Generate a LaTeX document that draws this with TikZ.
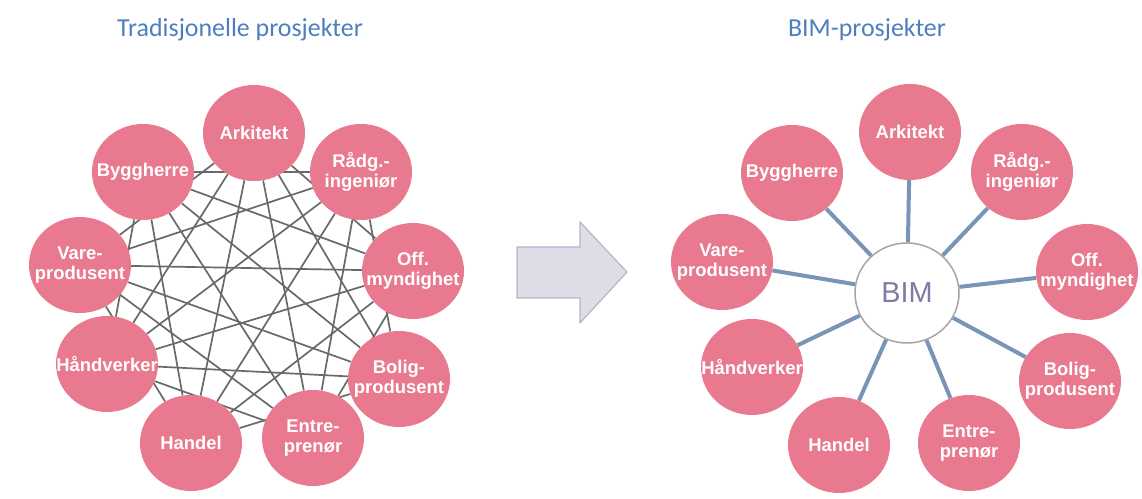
\documentclass[tikz,border=0pt]{standalone}
\usepackage{fontspec}
\setmainfont{Liberation Sans}
\newfontfamily\titlefont{Carlito}
\usetikzlibrary{shapes.geometric,backgrounds}

\definecolor{ballpink}{RGB}{233,121,143}
\definecolor{titleblue}{RGB}{78,126,190}
\definecolor{netgray}{RGB}{104,106,106}
\definecolor{spokeblue}{RGB}{120,148,182}
\definecolor{arrowfill}{RGB}{221,221,230}
\definecolor{arrowedge}{RGB}{180,180,206}
\definecolor{bimtext}{RGB}{124,124,166}
\definecolor{bimedge}{RGB}{165,165,165}

\begin{document}
\begin{tikzpicture}[x=1bp,y=-1bp,
  ball/.style={ellipse, fill=ballpink, minimum width=102bp, minimum height=96bp, inner sep=0pt},
  balltext/.style={text=white, font=\bfseries\fontsize{18.5}{20.5}\selectfont, align=center, inner sep=0pt},
  heading/.style={text=titleblue, font=\titlefont\fontsize{26}{30}\selectfont, anchor=base, inner sep=0pt},
  net/.style={draw=netgray, line width=1.7bp},
  spoke/.style={draw=spokeblue, line width=4bp},
  hub/.style={ellipse, draw=bimedge, line width=1.5bp, fill=white, minimum width=104bp, minimum height=100bp, inner sep=0pt,
              text=bimtext, font=\fontsize{29}{32}\selectfont},
  bigarrow/.style={fill=arrowfill, draw=arrowedge, line width=1.2bp, line join=round}
]
\useasboundingbox (0,0) rectangle (1142,499);

% headings
\node[heading] (tleft) at (240,37) {Tradisjonelle prosjekter};
\node[heading] (tright) at (867,37) {BIM-prosjekter};

% ---------- traditional projects: everyone talks to everyone ----------
\foreach \n/\x/\y/\t in {
  ark/254/133/{Arkitekt},
  rad/361/172/{Rådg.-\\ingeniør},
  off/413/271/{Off.\\myndighet},
  bol/399/379/{Bolig-\\produsent},
  ent/313/438/{Entre-\\prenør},
  han/191/443/{Handel},
  hnd/107/364/{Håndverker},
  var/80/265/{Vare-\\produsent},
  byg/143/172/{Byggherre}}
{
  \node[ball] (L\n) at (\x,\y) {};
  \node[balltext] (L\n-t) at (L\n) {\t};
}

\begin{pgfonlayer}{background}
\foreach \a/\b in {ark/off, ark/bol, ark/ent, ark/han, ark/hnd, ark/var,
                   rad/bol, rad/ent, rad/han, rad/hnd, rad/var, rad/byg,
                   off/ent, off/han, off/hnd, off/var, off/byg,
                   bol/han, bol/hnd, bol/var, bol/byg,
                   ent/hnd, ent/var, ent/byg,
                   han/var, han/byg,
                   hnd/byg}
  \draw[net] (L\a) -- (L\b);
\end{pgfonlayer}

% ---------- transition arrow ----------
\draw[bigarrow] (517,247) -- (580,247) -- (580,222) -- (627,272) -- (580,323) -- (580,298) -- (517,298) -- cycle;

% ---------- BIM projects: everyone talks to the model ----------
\node[hub] (bim) at (907,293) {BIM};

\foreach \n/\x/\y/\t in {
  ark/910/132/{Arkitekt},
  rad/1022/172/{Rådg.-\\ingeniør},
  off/1087/272/{Off.\\myndighet},
  bol/1070/381/{Bolig-\\produsent},
  ent/969/443/{Entre-\\prenør},
  han/839/445/{Handel},
  hnd/752/367/{Håndverker},
  var/722/262/{Vare-\\produsent},
  byg/792/173/{Byggherre}}
{
  \node[ball] (R\n) at (\x,\y) {};
  \node[balltext] (R\n-t) at (R\n) {\t};
  \begin{pgfonlayer}{background}
    \draw[spoke] (bim) -- (R\n);
  \end{pgfonlayer}
}
\end{tikzpicture}
\end{document}
